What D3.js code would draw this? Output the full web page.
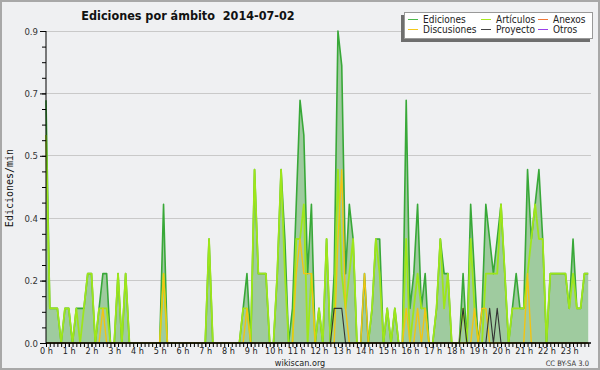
<!DOCTYPE html>
<html><head><meta charset="utf-8">
<script src="https://cdn.jsdelivr.net/npm/d3@7"></script>
<style>
html,body{margin:0;padding:0;background:#fff;}
svg{display:block;}
</style></head>
<body>
<svg id="c" width="600" height="370"></svg>
<script>
// ---- data: 10-minute bins, edits per minute ----
const hourLabels = ["0 h","1 h","2 h","3 h","4 h","5 h","6 h","7 h","8 h","9 h","10 h","11 h","12 h","13 h","14 h","15 h","16 h","17 h","18 h","19 h","20 h","21 h","22 h","23 h"];
const yTicks = [0, 0.18, 0.36, 0.54, 0.72, 0.9];
const ediciones = [
 0.7,0.1,0.1,0.1,0,0.1,   0.1,0,0.1,0.1,0.1,0.2,   0.2,0,0.1,0.2,0.2,0,   0,0.2,0,0.2,0,0,
 0,0,0,0,0,0,             0,0.4,0,0,0,0,           0,0,0,0,0,0,           0,0.3,0,0,0,0,
 0,0,0,0,0.1,0.2,         0,0.5,0.2,0.2,0.2,0,     0,0.2,0.5,0.3,0,0.1,   0.4,0.7,0.6,0.2,0.4,0,
 0.1,0,0.3,0,0.2,0.9,     0.8,0.2,0.4,0.3,0,0,     0.2,0,0.1,0.3,0.3,0,   0.1,0,0.1,0,0,0.7,
 0.1,0.2,0.4,0.1,0.2,0,   0,0.1,0.3,0.2,0.2,0,     0,0,0.2,0,0.4,0.2,     0,0.1,0.4,0.3,0.2,0.3,
 0.4,0.2,0,0.1,0.2,0.1,   0.1,0.5,0.3,0.4,0.5,0.3, 0,0.2,0.2,0.2,0.2,0.2, 0.1,0.3,0.1,0.1,0.2,0.2
];
const articulos = [
 0.6,0.1,0.1,0.1,0,0.1,   0.1,0,0.1,0,0.1,0.2,     0.2,0,0.1,0.1,0.1,0,   0,0.2,0,0.2,0,0,
 0,0,0,0,0,0,             0,0.2,0,0,0,0,           0,0,0,0,0,0,           0,0.3,0,0,0,0,
 0,0,0,0,0.1,0.1,         0,0.5,0.2,0.2,0.2,0,     0,0.2,0.5,0.2,0,0,     0.3,0.3,0.4,0,0.2,0,
 0.1,0,0.3,0,0.1,0.5,     0.2,0.1,0.2,0.3,0,0,     0,0,0.1,0.3,0.2,0,     0.1,0,0.1,0,0,0.3,
 0,0.1,0.2,0.1,0.1,0,     0,0.1,0.3,0.1,0.2,0,     0,0,0.1,0,0.3,0.1,     0,0,0.2,0.2,0.2,0.2,
 0.4,0.2,0,0.1,0.1,0.1,   0.1,0.2,0.3,0.4,0.3,0.3, 0,0.2,0.2,0.2,0.2,0.2, 0.1,0.2,0.1,0.1,0.2,0.2
];
const discusiones = [
 0,0,0,0,0,0,             0,0,0,0,0,0,             0,0,0,0.1,0,0,         0,0,0,0,0,0,
 0,0,0,0,0,0,             0,0.2,0,0,0,0,           0,0,0,0,0,0,           0,0,0,0,0,0,
 0,0,0,0,0,0.1,           0,0,0,0,0,0,             0,0,0,0,0,0,           0.2,0.3,0.2,0.2,0.2,0,
 0,0,0,0,0,0.3,           0.5,0.1,0,0,0,0,         0.2,0,0,0,0,0,         0,0,0,0,0,0.1,
 0,0,0.1,0,0.1,0,         0,0,0,0,0,0,             0,0,0,0,0,0.1,         0,0.1,0.1,0,0,0,
 0,0,0,0,0,0,             0,0.2,0,0,0,0,           0,0,0,0,0,0,           0,0,0,0,0,0
];
const proyecto = [
 0,0,0,0,0,0, 0,0,0,0,0,0, 0,0,0,0,0,0, 0,0,0,0,0,0,
 0,0,0,0,0,0, 0,0,0,0,0,0, 0,0,0,0,0,0, 0,0,0,0,0,0,
 0,0,0,0,0,0, 0,0,0,0,0,0, 0,0,0,0,0,0, 0,0,0,0,0,0,
 0,0,0,0,0.1,0.1, 0.1,0,0,0,0,0, 0,0,0,0,0,0, 0,0,0,0,0,0,
 0,0,0,0,0,0, 0,0,0,0,0,0, 0,0,0.1,0,0,0, 0,0,0,0.1,0,0.1,
 0,0,0,0,0,0, 0,0,0,0,0,0, 0,0,0,0,0,0, 0,0,0,0,0,0
];
const legendNames = ["Ediciones","Artículos","Anexos","Discusiones","Proyecto","Otros"];
const legendColors = ["#4cb84c","#a8e820","#f07838","#f4c81c","#444444","#9a40e8"];

// ---- drawing ----
const svg = d3.select("#c");
const W = 600, H = 370;
const font = "'DejaVu Sans Condensed','Liberation Sans Narrow','Liberation Sans',sans-serif";

svg.append("rect").attr("x",1).attr("y",1).attr("width",W-2).attr("height",H-2)
  .attr("fill","#eff0f2").attr("stroke","#a8a8a8").attr("stroke-width",2);

const x = d3.scaleLinear().domain([0,1440]).range([46,592]);
const y = d3.scaleLinear().domain([0,0.9]).range([343,31]);

// grid
svg.append("g").selectAll("line").data(yTicks.filter(d=>d>0)).join("line")
  .attr("x1",46).attr("x2",591).attr("y1",d=>y(d)).attr("y2",d=>y(d))
  .attr("stroke","#c9c9c9").attr("stroke-width",1).attr("shape-rendering","crispEdges");

const xm = (d,i)=>x(i*10);
const area = d3.area().x(xm).y0(y(0)).y1(d=>y(d));
const line = d3.line().x(xm).y(d=>y(d));

svg.append("path").datum(ediciones).attr("d",area).attr("fill","#9fcb9f");
svg.append("path").datum(ediciones).attr("d",line).attr("fill","none")
  .attr("stroke","#38a838").attr("stroke-width",1.6).attr("stroke-linejoin","round");
svg.append("path").datum(articulos).attr("d",line).attr("fill","none")
  .attr("stroke","#9ee61a").attr("stroke-width",1.8).attr("stroke-linejoin","round");
svg.append("path").datum(discusiones).attr("d",line).attr("fill","none")
  .attr("stroke","#f2c414").attr("stroke-width",1.4).attr("stroke-linejoin","round");
svg.append("path").datum(proyecto).attr("d",line).attr("fill","none")
  .attr("stroke","#333").attr("stroke-width",1.1).attr("stroke-linejoin","round");

// y axis
const minorY = d3.range(0,21).map(k=>k*0.045);
const gy = svg.append("g").attr("transform","translate(46,0)")
  .call(d3.axisLeft(y).tickValues(minorY).tickSize(4).tickFormat(""));
gy.select(".domain").remove();
const gy2 = svg.append("g").attr("transform","translate(46,0)")
  .call(d3.axisLeft(y).tickValues(yTicks).tickSize(6).tickPadding(2).tickFormat(d3.format(".1f")));
gy2.selectAll("text").attr("font-family",font).attr("font-size",9.5).attr("fill","#333");
gy2.select(".domain").attr("d","M0,343V31").attr("stroke","#000");

// x axis
const minorX = d3.range(0,144).map(k=>k*10);
const gx = svg.append("g").attr("transform","translate(0,343)")
  .call(d3.axisBottom(x).tickValues(minorX).tickSize(4).tickFormat(""));
gx.select(".domain").remove();
const gx2 = svg.append("g").attr("transform","translate(0,343)")
  .call(d3.axisBottom(x).tickValues(d3.range(0,24).map(h=>h*60)).tickSize(4).tickPadding(0.5)
    .tickFormat((d,i)=>hourLabels[i]));
gx2.selectAll("text").attr("font-family",font).attr("font-size",9).attr("fill","#222");
gx2.select(".domain").attr("d","M46,0H591").attr("stroke","#000").attr("stroke-width",1.5);

// title
svg.append("text").attr("x",188).attr("y",20).attr("text-anchor","middle")
  .attr("font-family",font).attr("font-weight","bold").attr("font-size",12.5).attr("fill","#111")
  .attr("xml:space","preserve").text("Ediciones por ámbito  2014-07-02");

// y label
svg.append("text").attr("transform","translate(13,188) rotate(-90)").attr("text-anchor","middle")
  .attr("font-family","'DejaVu Sans Mono',monospace").attr("font-size",10).attr("fill","#111")
  .text("Ediciones/min");

// footer
svg.append("text").attr("x",300).attr("y",365.5).attr("text-anchor","middle")
  .attr("font-family",font).attr("font-size",9).attr("fill","#222").text("wikiscan.org");
svg.append("text").attr("x",589).attr("y",366).attr("text-anchor","end")
  .attr("font-family",font).attr("font-size",7.5).attr("fill","#333").text("CC BY-SA 3.0");

// legend
const lg = svg.append("g");
lg.append("rect").attr("x",401).attr("y",15).attr("width",189).attr("height",27).attr("fill","#6e6e6e");
lg.append("rect").attr("x",404.5).attr("y",12.5).attr("width",188).attr("height",26).attr("fill","#fff").attr("stroke","#999");
const colX = [408,481,538];
legendNames.forEach((n,i)=>{
  const cx = colX[i%3], cy = i<3 ? 19 : 29;
  lg.append("line").attr("x1",cx).attr("x2",cx+10).attr("y1",cy+0.5).attr("y2",cy+0.5)
    .attr("stroke",legendColors[i]).attr("stroke-width",1);
  lg.append("text").attr("x",cx+15).attr("y",cy+3.5).attr("font-family",font)
    .attr("font-size",10).attr("fill","#222").text(n);
});
</script>
</body></html>
